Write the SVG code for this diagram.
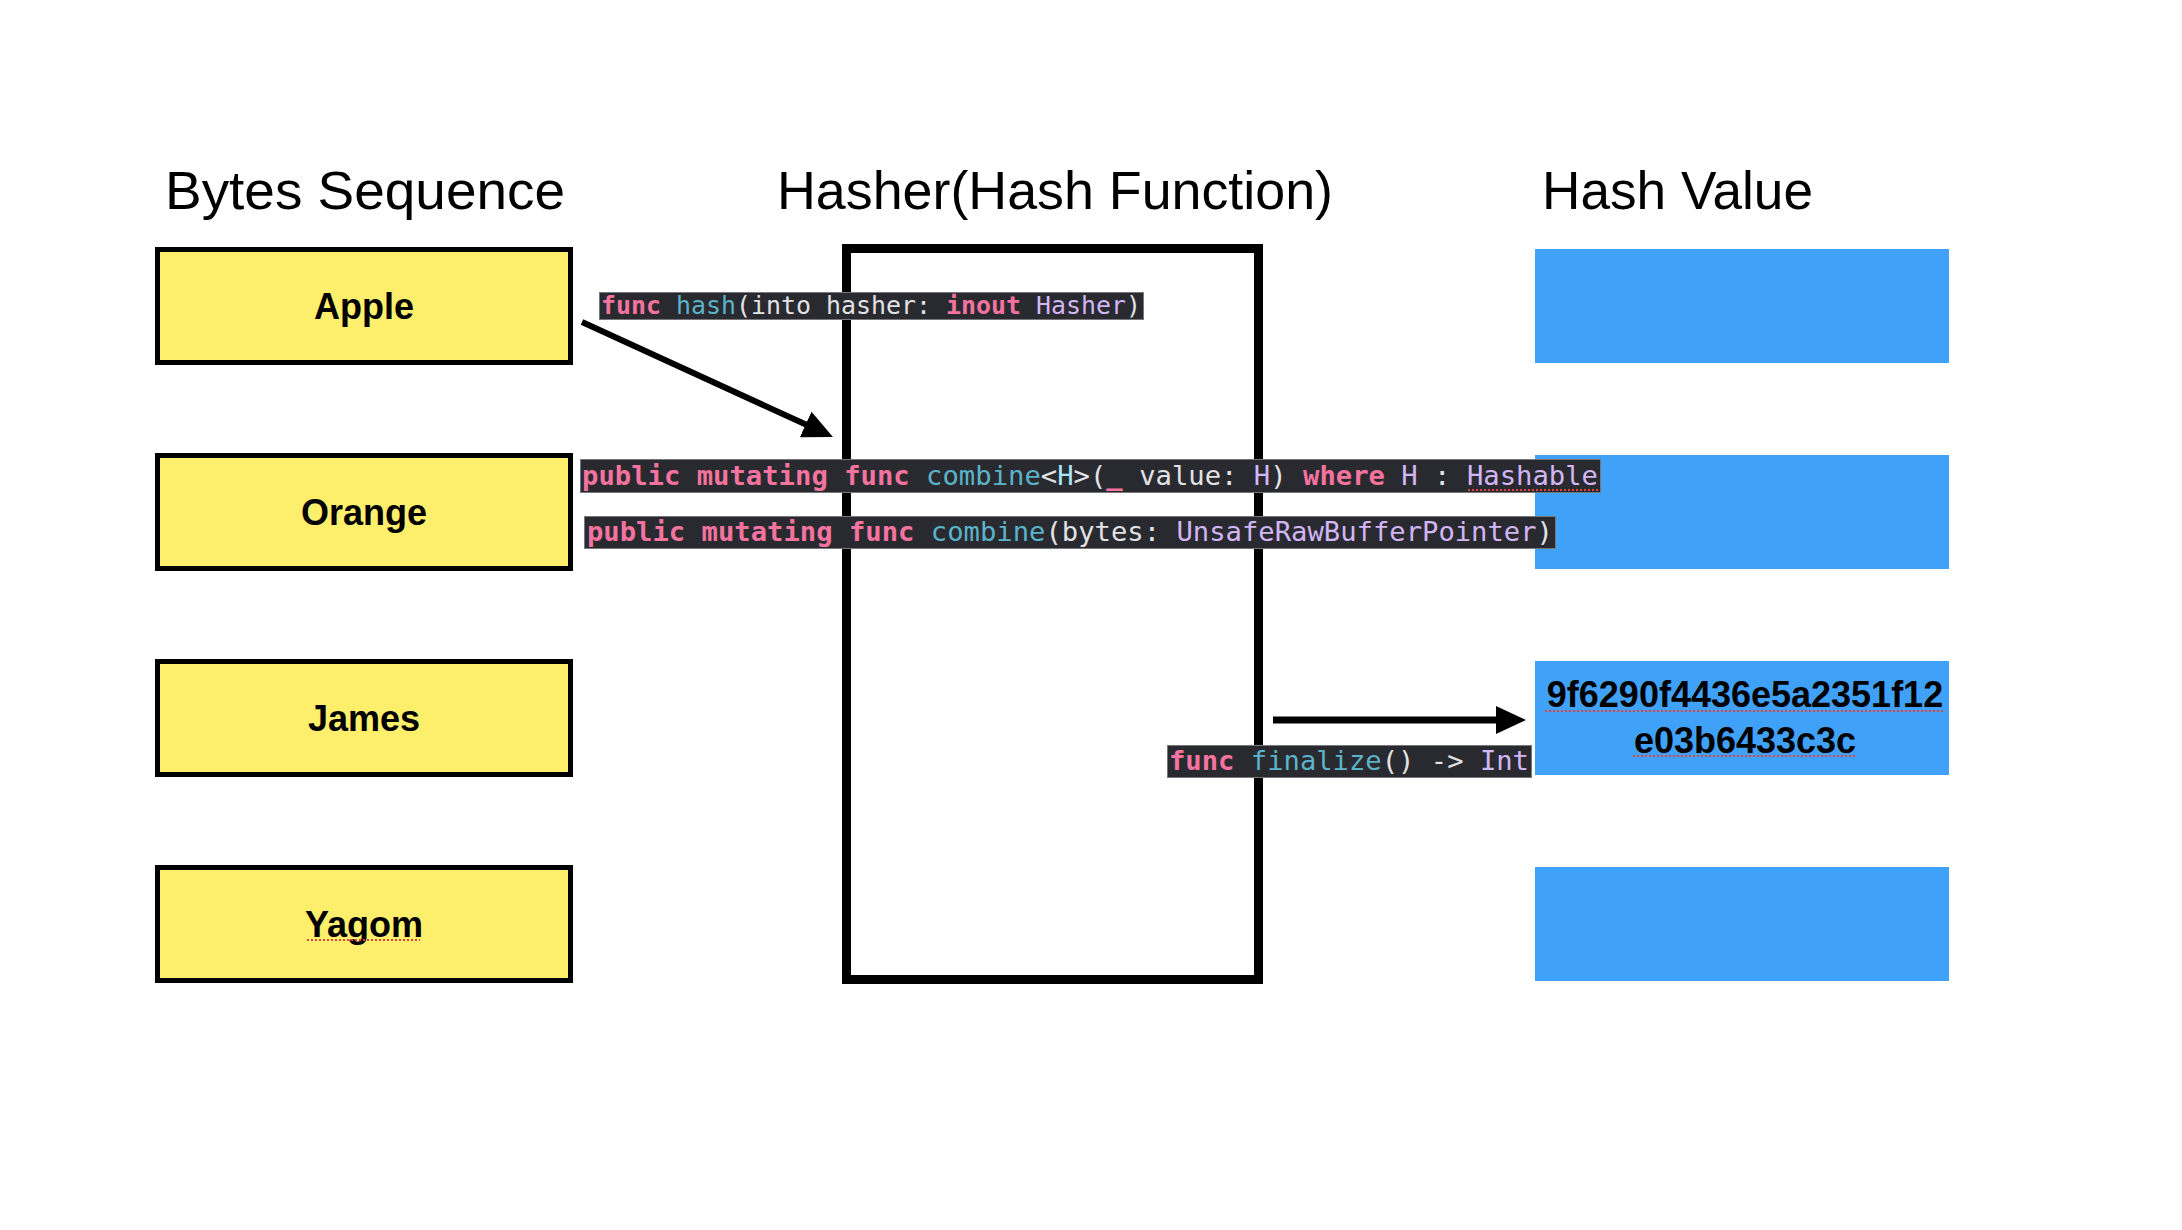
<svg xmlns="http://www.w3.org/2000/svg" width="2182" height="1230" viewBox="0 0 2182 1230">
<style>
.title{font-family:"Liberation Sans",Arial,sans-serif;font-size:54px;fill:#000}
.node{fill:#fdee6b;stroke:#000;stroke-width:5}
.nlabel{font-family:"Liberation Sans",Arial,sans-serif;font-size:36px;font-weight:bold;fill:#000;text-anchor:middle}
.hv{fill:#3fa2f8}
.hasher{fill:none;stroke:#000;stroke-width:9}
.codebg{fill:#292a30;stroke:#77777c;stroke-width:1}
.code{font-family:"DejaVu Sans Mono","Liberation Mono",monospace;fill:#e2e2e4}
.kw{fill:#f5739f;font-weight:bold}
.fn{fill:#5bb3c9}
.ty{fill:#d3b6f6}
.gp{fill:#a8e6f7}
.spell{stroke:#e0443e;stroke-width:2;stroke-dasharray:2 2;fill:none}
.conn{stroke:#000;fill:none}
</style>
<defs>
<marker id="ah" markerUnits="userSpaceOnUse" markerWidth="30" markerHeight="28" refX="2" refY="14" orient="auto">
<path d="M0,0 L30,14 L0,28 z" fill="#000"/>
</marker>
</defs>
<rect width="2182" height="1230" fill="#fff"/>

<g id="titles">
<text class="title" x="165" y="209" textLength="400" lengthAdjust="spacingAndGlyphs">Bytes Sequence</text>
<text class="title" x="777" y="209" textLength="556" lengthAdjust="spacingAndGlyphs">Hasher(Hash Function)</text>
<text class="title" x="1542" y="209" textLength="271" lengthAdjust="spacingAndGlyphs">Hash Value</text>
</g>

<g id="node-apple"><rect class="node" x="157.5" y="249.5" width="413" height="113"/><text class="nlabel" x="364" y="319">Apple</text></g>
<g id="node-orange"><rect class="node" x="157.5" y="455.5" width="413" height="113"/><text class="nlabel" x="364" y="525">Orange</text></g>
<g id="node-james"><rect class="node" x="157.5" y="661.5" width="413" height="113"/><text class="nlabel" x="364" y="731">James</text></g>
<g id="node-yagom"><rect class="node" x="157.5" y="867.5" width="413" height="113"/><text class="nlabel" x="364" y="937">Yagom</text><line class="spell" x1="307" y1="940" x2="420" y2="940"/></g>

<g id="node-hasher"><rect class="hasher" x="846.5" y="248.5" width="412" height="731"/></g>

<g id="hash-1"><rect class="hv" x="1535" y="249" width="414" height="114"/></g>
<g id="hash-2"><rect class="hv" x="1535" y="455" width="414" height="114"/></g>
<g id="hash-3"><rect class="hv" x="1535" y="661" width="414" height="114"/>
<text class="nlabel" x="1745" y="707">9f6290f4436e5a2351f12</text>
<text class="nlabel" x="1745" y="753">e03b6433c3c</text>
<line class="spell" x1="1545" y1="711" x2="1945" y2="711"/>
<line class="spell" x1="1633" y1="756" x2="1857" y2="756"/>
</g>
<g id="hash-4"><rect class="hv" x="1535" y="867" width="414" height="114"/></g>

<g id="connectors">
<line class="conn" x1="582" y1="322" x2="807.5" y2="425.3" stroke-width="6" marker-end="url(#ah)"/>
<line class="conn" x1="1273" y1="720" x2="1498" y2="720" stroke-width="7" marker-end="url(#ah)"/>
</g>

<g id="code-hash">
<rect class="codebg" x="599.5" y="292.5" width="544" height="27"/>
<text class="code" x="601" y="314" font-size="24" textLength="540" lengthAdjust="spacingAndGlyphs"><tspan class="kw">func</tspan> <tspan class="fn">hash</tspan>(into hasher: <tspan class="kw">inout</tspan> <tspan class="ty">Hasher</tspan>)</text>
</g>
<g id="code-combine-generic">
<rect class="codebg" x="580.5" y="459.5" width="1020" height="33"/>
<text class="code" x="582" y="485" font-size="27" textLength="1016" lengthAdjust="spacingAndGlyphs"><tspan class="kw">public mutating func</tspan> <tspan class="fn">combine</tspan>&lt;<tspan class="gp">H</tspan>&gt;(<tspan class="kw">_</tspan> value: <tspan class="ty">H</tspan>) <tspan class="kw">where</tspan> <tspan class="ty">H</tspan> : <tspan class="ty">Hashable</tspan></text>
<line class="spell" x1="1468" y1="490" x2="1598" y2="490"/>
</g>
<g id="code-combine-bytes">
<rect class="codebg" x="584.5" y="516.5" width="971" height="32"/>
<text class="code" x="587" y="541" font-size="27" textLength="966" lengthAdjust="spacingAndGlyphs"><tspan class="kw">public mutating func</tspan> <tspan class="fn">combine</tspan>(bytes: <tspan class="ty">UnsafeRawBufferPointer</tspan>)</text>
</g>
<g id="code-finalize">
<rect class="codebg" x="1167.5" y="745.5" width="364" height="32"/>
<text class="code" x="1169" y="770" font-size="27" textLength="360" lengthAdjust="spacingAndGlyphs"><tspan class="kw">func</tspan> <tspan class="fn">finalize</tspan>() -&gt; <tspan class="ty">Int</tspan></text>
</g>
</svg>
